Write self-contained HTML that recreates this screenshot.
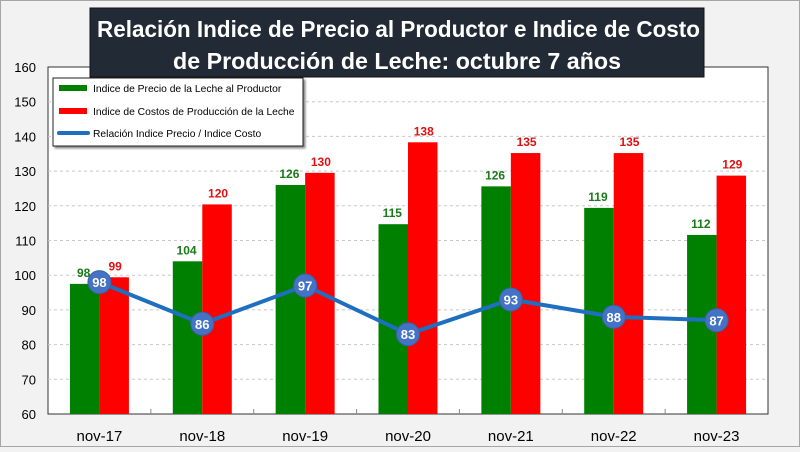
<!DOCTYPE html>
<html><head><meta charset="utf-8"><style>
body{margin:0;width:800px;height:447px;overflow:hidden;background:#f2f2f2;font-family:"Liberation Sans",sans-serif}
</style></head><body>
<svg id="c" width="800" height="447" xmlns="http://www.w3.org/2000/svg" style="font-family:'Liberation Sans',sans-serif">
<rect x="0.5" y="0.5" width="799" height="446" fill="#f2f2f2" stroke="#a6a6a6"/>
<rect x="48" y="67" width="720" height="347" fill="#fff" stroke="#333" stroke-width="1"/>
<g id="grid"></g><g id="bars"></g><g id="line"></g><g id="axes"></g>
<g>
<rect x="90" y="8" width="614" height="69" fill="#222a35" stroke="#111"/>
<text x="97" y="37" textLength="603" lengthAdjust="spacingAndGlyphs" fill="#fff" font-size="23" font-weight="bold">Relación Indice de Precio al Productor e Indice de Costo</text>
<text x="173" y="69" textLength="448" lengthAdjust="spacingAndGlyphs" fill="#fff" font-size="23" font-weight="bold">de Producción de Leche: octubre 7 años</text>
</g>
<g>
<rect x="53" y="78" width="250" height="68" fill="#fff" stroke="#222" style="filter:drop-shadow(2px 2px 1px #888)"/>
<g><rect x="59" y="85" width="28" height="6" fill="#008000"/><text x="93" y="92" font-size="10.3">Indice de Precio de la Leche al Productor</text></g>
<g><rect x="59" y="108" width="28" height="6" fill="#ff0000"/><text x="93" y="115" font-size="10.3">Indice de Costos de Producción de la Leche</text></g>
<g><line x1="59" y1="133" x2="88" y2="133" stroke="#1f6fc0" stroke-width="4" stroke-linecap="round"/><text x="93" y="137" font-size="10.3">Relación Indice Precio / Indice Costo</text></g>
</g>
</svg>
<script>
const categories=["nov-17","nov-18","nov-19","nov-20","nov-21","nov-22","nov-23"];
const precio=[97.5,104,126,114.7,125.6,119.4,111.6];
const costos=[99.4,120.4,129.5,138.3,135.2,135.2,128.7];
const relacion=[98,86,97,83,93,88,87];
const yTicks=[60,70,80,90,100,110,120,130,140,150,160];
const NS="http://www.w3.org/2000/svg";
const L=48,R=768,T=67,B=414,ymin=60,ymax=160;
const cw=(R-L)/categories.length;
const y=v=>B-(v-ymin)/(ymax-ymin)*(B-T);
const xc=i=>L+cw*(i+0.5);
function mk(p,t,a,txt){const e=document.createElementNS(NS,t);for(const k in a)e.setAttribute(k,a[k]);if(txt!==undefined)e.textContent=txt;document.getElementById(p).appendChild(e);return e;}
yTicks.forEach(v=>{
 if(v>ymin&&v<ymax){const g=mk('grid','line',{x1:L,x2:R,y1:y(v),y2:y(v),stroke:'#c8c8c8','stroke-dasharray':'3,3'});
 
 }
 const t=mk('axes','text',{x:36,y:y(v)+5,'text-anchor':'end','font-size':'13'},v);
 
 
});
const bw=29.5;
categories.forEach((c,i)=>{
 const cx=xc(i);
 const g=mk('bars','rect',{x:cx-bw,y:y(precio[i]),width:bw,height:B-y(precio[i]),fill:'#008000'});
 
 
 const r=mk('bars','rect',{x:cx,y:y(costos[i]),width:bw,height:B-y(costos[i]),fill:'#ff0000'});
 
 
 const gl=mk('bars','text',{x:cx-bw/2-1,y:y(precio[i])-7,'text-anchor':'middle','font-size':'12','font-weight':'bold',fill:'#1a7a1a'},Math.round(precio[i]));
 
 
 const rl=mk('bars','text',{x:cx+bw/2+1,y:y(costos[i])-7,'text-anchor':'middle','font-size':'12','font-weight':'bold',fill:'#e01010'},Math.round(costos[i]));
 
 
 const xl=mk('axes','text',{x:cx,y:441,'text-anchor':'middle','font-size':'15'},c);
 
 
 if(i>0){const tk=mk('axes','line',{x1:L+cw*i,x2:L+cw*i,y1:B,y2:B-5,stroke:'#888'});
 
 }
});
const pl=mk('line','polyline',{points:relacion.map((v,i)=>xc(i)+','+y(v)).join(' '),fill:'none',stroke:'#1f6fc0','stroke-width':'4'});


relacion.forEach((v,i)=>{
 const c=mk('line','circle',{cx:xc(i),cy:y(v),r:11.5,fill:'#4472c4',stroke:'#3a62a8'});
 
 
 const t=mk('line','text',{x:xc(i),y:y(v)+5,'text-anchor':'middle','font-size':'13','font-weight':'bold',fill:'#fff'},v);
 
 
});
</script>
</body></html>
